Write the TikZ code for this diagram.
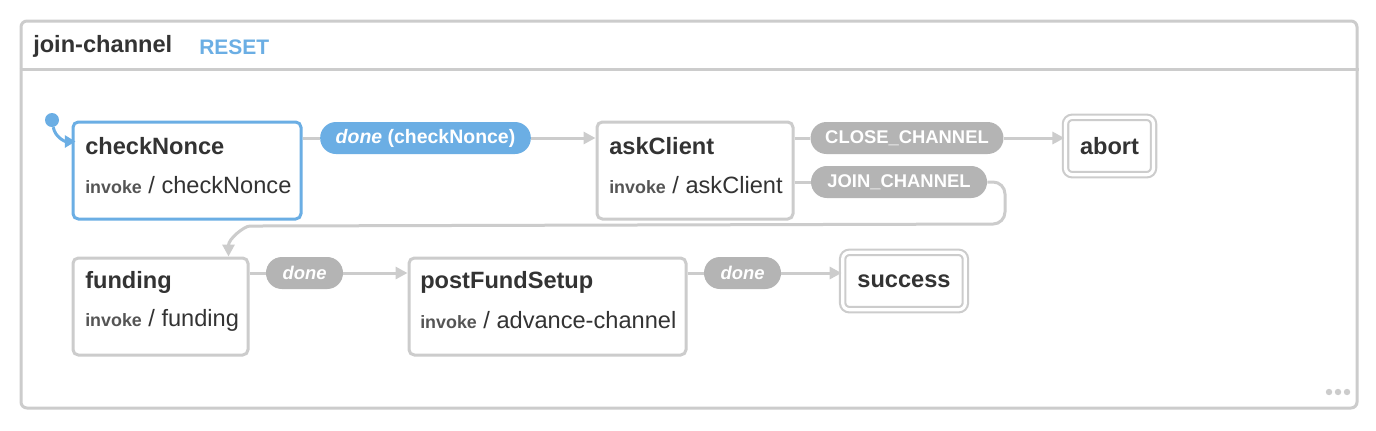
\documentclass[tikz,border=0pt]{standalone}
\usepackage{fontspec}
\setmainfont{Liberation Sans}
\usetikzlibrary{arrows.meta,calc}

\definecolor{xblue}{RGB}{107,174,228}
\definecolor{edgegray}{RGB}{204,204,204}
\definecolor{pillgray}{RGB}{180,180,180}
\definecolor{textdark}{RGB}{51,51,51}
\definecolor{invokegray}{RGB}{85,85,85}

\newcommand\titlefont{\fontsize{17.7}{20}\selectfont\bfseries}
\newcommand\bodyfont{\fontsize{17.7}{20}\selectfont}
\newcommand\pillfont{\fontsize{13.8}{16}\selectfont\bfseries}
\newcommand\invk{{\fontsize{13.4}{15}\selectfont\bfseries\color{invokegray}invoke}}

\begin{document}
\begin{tikzpicture}[x=0.75pt, y=-0.75pt,
    machine/.style={rectangle, rounded corners=4.5pt, draw=edgegray,
        line width=2.25pt, fill=white},
    state/.style={rectangle, rounded corners=4pt, draw=edgegray,
        line width=2.25pt, fill=white, minimum height=72.75pt},
    active/.style={state, draw=xblue},
    final/.style={rectangle, rounded corners=5pt, draw=edgegray, double=white,
        line width=1.6pt, double distance=2.4pt, fill=white,
        font=\titlefont, text=textdark},
    title/.style={anchor=west, font=\titlefont, text=textdark, inner sep=0pt},
    invoke/.style={anchor=west, font=\bodyfont, text=textdark, inner sep=0pt},
    pill/.style={rectangle, rounded corners=11.9pt, minimum height=24pt,
        inner xsep=11pt, inner ysep=0pt, fill=pillgray, text=white, font=\pillfont},
    edge/.style={draw=edgegray, line width=2.25pt},
    arrow/.style={edge, -{Triangle[length=9pt, width=9pt]}}
]
    \useasboundingbox[fill=white] (0,0) rectangle (1376,430);

    % machine frame and header
    \node[machine, minimum width=1002pt, minimum height=290.25pt] (machine) at (689,214.5) {};
    \coordinate (hdr) at (0,69);
    \draw[edge] (machine.west |- hdr) -- (machine.east |- hdr);
    \node[title] (name) at (33,46) {join-channel};
    \node[anchor=west, inner sep=0pt, font=\fontsize{15.75}{18}\selectfont\bfseries,
        text=xblue] (reset) at (199,47) {RESET};

    % states
    \node[active, minimum width=171pt] (checkNonce) at (187,170.5) {};
    \node[title] (checkNonceT) at (85,146) {checkNonce};
    \node[invoke] (checkNonceI) at (85,185) {\invk{} / checkNonce};

    \node[state, minimum width=147pt] (askClient) at (695,170.5) {};
    \node[title] (askClientT) at (609,146) {askClient};
    \node[invoke] (askClientI) at (609,185) {\invk{} / askClient};

    \node[final, minimum width=66pt, minimum height=43pt] (abort) at (1109.5,146) {abort};

    \node[state, minimum width=131.25pt] (funding) at (160.5,306.5) {};
    \node[title] (fundingT) at (85,282) {funding};
    \node[invoke] (fundingI) at (85,320) {\invk{} / funding};

    \node[state, minimum width=207.75pt] (postFundSetup) at (547.5,306.5) {};
    \node[title] (postFundSetupT) at (420,282) {postFundSetup};
    \node[invoke] (postFundSetupI) at (420,320) {\invk{} / advance-channel};

    \node[final, minimum width=92pt, minimum height=43pt] (success) at (904,281) {success};

    % initial state
    \node[circle, fill=xblue, inner sep=0pt, minimum size=10.5pt] (init) at (52,120) {};
    \draw[line width=2.25pt, draw=xblue, -{Triangle[length=8pt, width=9pt]}]
        (init) to[out=-80, in=180] ($(checkNonce.north west)+(4,21)$);

    % event labels
    \node[pill, fill=xblue, minimum width=158pt] (doneCheck) at (425.5,138)
        {\fontsize{14.6}{16}\selectfont\itshape done\upshape{} (checkNonce)};
    \node[pill, minimum width=144pt] (closeCh) at (907,138) {CLOSE\_CHANNEL};
    \node[pill, minimum width=132pt] (joinCh) at (899,182) {JOIN\_CHANNEL};
    \node[pill, minimum width=57.75pt] (doneFund) at (304.5,273) {\itshape done};
    \node[pill, minimum width=57.75pt] (donePost) at (742.5,273) {\itshape done};

    % transitions
    \draw[edge] (checkNonce.east |- doneCheck) -- (doneCheck);
    \draw[arrow] (doneCheck) -- (askClient.west |- doneCheck);
    \draw[edge] (askClient.east |- closeCh) -- (closeCh);
    \draw[arrow] (closeCh) -- (abort.west |- closeCh);
    \draw[edge] (askClient.east |- joinCh) -- (joinCh);
    \coordinate (joinTurn) at (1005,224);
    \coordinate (joinLeft) at (262,226);
    \draw[arrow, rounded corners=9pt] (joinCh) -| (joinTurn) -- (joinLeft)
        to[out=180, in=90] ($(funding.north west)+(157,0)$);
    \draw[edge] (funding.east |- doneFund) -- (doneFund);
    \draw[arrow] (doneFund) -- (postFundSetup.west |- doneFund);
    \draw[edge] (postFundSetup.east |- donePost) -- (donePost);
    \draw[arrow] (donePost) -- (success.west |- donePost);

    % corner dots
    \foreach \dx in {1329,1338,1347}
        \fill[edgegray] (\dx,392) circle (2.4pt);
\end{tikzpicture}
\end{document}
